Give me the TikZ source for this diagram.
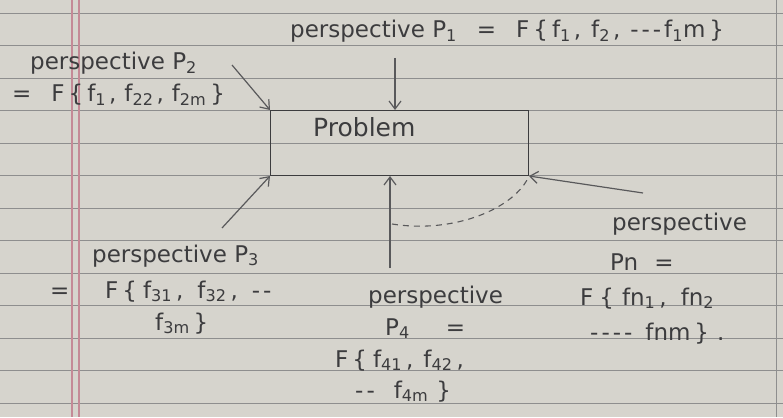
\documentclass[tikz,border=0pt]{standalone}
\usepackage{fontspec}
\setmainfont{DejaVu Sans}
\usetikzlibrary{arrows.meta}
\definecolor{paper}{HTML}{D6D4CD}
\definecolor{ink}{HTML}{3C3C3E}
\definecolor{ruleline}{HTML}{8E8E8E}
\definecolor{marginline}{HTML}{C48A96}
\newcommand{\sbs}[1]{\textsubscript{#1}}
\newcommand{\dsh}{{-}\kern3pt}
\newcommand{\gp}[1]{\hspace{#1pt}}
\begin{document}
\begin{tikzpicture}[x=1pt,y=-1pt,
  hw/.style={font=\fontsize{23}{27}\selectfont, text=ink, inner sep=0pt, anchor=base west},
  arr/.style={draw=ink!85, line width=1.2pt, -{Straight Barb[length=8pt,width=12pt]}}]
\fill[paper] (0,0) rectangle (783,417);
\useasboundingbox (0,0) rectangle (783,417);
\foreach \y in {13,45.5,...,410} \draw[ruleline, line width=0.8pt] (0,\y) -- (783,\y);
\draw[marginline, line width=1.3pt] (72,0) -- (72,417);
\draw[marginline, line width=1.3pt] (79,0) -- (79,417);
\draw[ruleline, line width=1pt] (776,0) -- (776,417);
% problem box
\node[draw=ink, line width=1pt, minimum width=258pt, minimum height=65pt, anchor=north west, inner sep=0pt] (prob) at (270,110) {};
\node[hw, font=\fontsize{25}{29}\selectfont] (probtxt) at (313,136) {Problem};
% labels
\node[hw] (l1) at (290,38) {perspective P\sbs{1}\gp{20}=\gp{20}F\gp{4}\{\gp{4}f\sbs{1}\gp{3},\gp{10}f\sbs{2}\gp{3},\gp{10}\dsh\dsh\dsh f\sbs{1}m\gp{4}\}};
\node[hw] (l2a) at (30,70) {perspective P\sbs{2}};
\node[hw] (l2b) at (12,102) {=\gp{20}F\gp{4}\{\gp{4}f\sbs{1}\gp{3},\gp{8}f\sbs{22}\gp{3},\gp{8}f\sbs{2m}\gp{4}\}};
\node[hw] (l3a) at (92,262) {perspective P\sbs{3}};
\node[hw] (l3eq) at (50,298) {=};
\node[hw] (l3b) at (105,298) {F\gp{4}\{\gp{6}f\sbs{31}\gp{4},\gp{14}f\sbs{32}\gp{4},\gp{14}\dsh\dsh};
\node[hw] (l3c) at (155,330) {f\sbs{3m}\gp{4}\}};
\node[hw] (l4a) at (368,303) {perspective};
\node[hw] (l4b) at (385,335) {P\sbs{4}\gp{36}=};
\node[hw] (l4c) at (335,367) {F\gp{4}\{\gp{6}f\sbs{41}\gp{4},\gp{10}f\sbs{42}\gp{4},};
\node[hw] (l4d) at (355,398) {\dsh\dsh\gp{16}f\sbs{4m}\gp{8}\}};
\node[hw] (lna) at (612,230) {perspective};
\node[hw] (lnb) at (610,270) {Pn\gp{16}=};
\node[hw] (lnc) at (580,305) {F\gp{6}\{\gp{8}fn\sbs{1}\gp{4},\gp{14}fn\sbs{2}};
\node[hw] (lnd) at (590,340) {\dsh\dsh\dsh\dsh\gp{10}fnm\gp{4}\}\gp{8}.};
% arrows
\coordinate (p1s) at (395,58);
\coordinate (p2s) at (232,65);
\coordinate (p3s) at (222,228);
\coordinate (p4s) at (390,268);
\coordinate (pns) at (643,193);
\coordinate (dstart) at (392,224);
\draw[arr] (p1s) -- (p1s |- prob.north);
\draw[arr] (p2s) -- (prob.north west);
\draw[arr] (p3s) -- (prob.south west);
\draw[arr] (p4s) -- (p4s |- prob.south);
\draw[arr] (pns) -- (prob.south east);
\draw[ink!85, line width=1.1pt, dash pattern=on 6pt off 5pt] (dstart) .. controls (455,234) and (515,208) .. (prob.south east);
\end{tikzpicture}
\end{document}
